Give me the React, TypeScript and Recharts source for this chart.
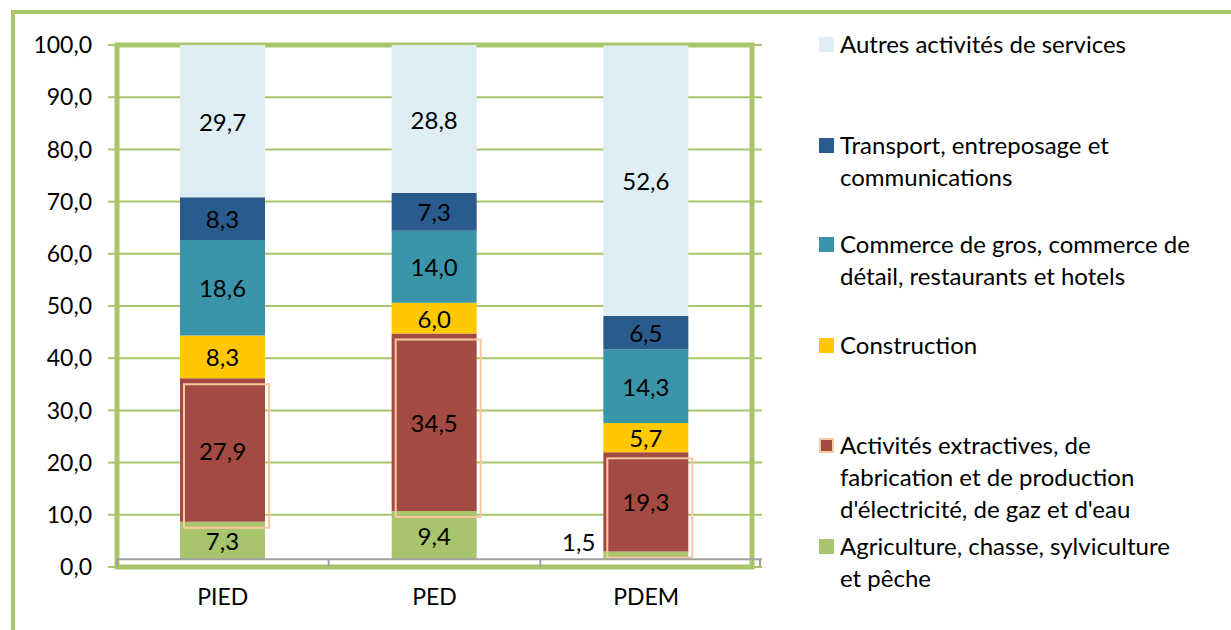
import React from 'react';
import {
  BarChart,
  Bar,
  Line,
  XAxis,
  YAxis,
  CartesianGrid,
  Legend,
  LabelList,
  ReferenceLine,
  ReferenceArea,
  Rectangle,
} from 'recharts';

const CATEGORIES = ['PIED', 'PED', 'PDEM'];
const AGRICULTURE = [7.3, 9.4, 1.5];
const ACTIVITES = [27.9, 34.5, 19.3];
const CONSTRUCTION = [8.3, 6.0, 5.7];
const COMMERCE = [18.6, 14.0, 14.3];
const TRANSPORT = [8.3, 7.3, 6.5];
const AUTRES = [29.7, 28.8, 52.6];
const Y_TICKS = [0, 10, 20, 30, 40, 50, 60, 70, 80, 90, 100];

const SERIES = [
  { key: 'agriculture', name: 'Agriculture, chasse, sylviculture\net pêche', values: AGRICULTURE, color: '#a8c46c' },
  { key: 'activites', name: "Activités extractives, de\nfabrication et de production\nd'électricité, de gaz et d'eau", values: ACTIVITES, color: '#a34a42' },
  { key: 'construction', name: 'Construction', values: CONSTRUCTION, color: '#ffc800' },
  { key: 'commerce', name: 'Commerce de gros, commerce de\ndétail, restaurants et hotels', values: COMMERCE, color: '#3b95aa' },
  { key: 'transport', name: 'Transport, entreposage et\ncommunications', values: TRANSPORT, color: '#295b8d' },
  { key: 'autres', name: 'Autres activités de services', values: AUTRES, color: '#dfeef5' },
];

const data = CATEGORIES.map((cat, i) => {
  const row: Record<string, any> = { cat };
  SERIES.forEach((s) => {
    row[s.key] = s.values[i];
  });
  return row;
});

const GREEN = '#a9c56b';
const PEACH = '#f9c8a0';
const FONT = 'Lato, "Open Sans", sans-serif';
const PLOT_TOP = 45;

const fmt = (v: number) => v.toFixed(1).replace('.', ',');

const SegmentLabel = (props: any) => {
  const { x, y, width, height, value, small } = props;
  if (value == null) return null;
  const top = Math.max(y, PLOT_TOP);
  const cy = top + (y + height - top) / 2;
  if (small && value < 3) {
    return (
      <text x={x - 8} y={cy - 14} textAnchor="end" dominantBaseline="central" fontSize={24} fontFamily={FONT} fill="#000">
        {fmt(value)}
      </text>
    );
  }
  return (
    <text x={x + width / 2} y={cy} textAnchor="middle" dominantBaseline="central" fontSize={24} fontFamily={FONT} fill="#000">
      {fmt(value)}
    </text>
  );
};

const OutlinedShape = (props: any) => {
  const { x, y, width, height, fill } = props;
  return (
    <g>
      <Rectangle x={x} y={y} width={width} height={height} fill={fill} />
      <rect x={x + 4} y={y + 6} width={width} height={height} fill="none" stroke={PEACH} strokeWidth={2} />
    </g>
  );
};

const CategoryTick = (props: any) => {
  const { x, y, payload } = props;
  const half = payload && payload.offset ? payload.offset : 106;
  const isLast = payload && payload.index === CATEGORIES.length - 1;
  return (
    <g>
      <line x1={x - half} y1={y - 8} x2={x - half} y2={y} stroke="#a0a0a0" strokeWidth={2} />
      {isLast && <line x1={x + half + 8} y1={y - 8} x2={x + half + 8} y2={y} stroke="#a0a0a0" strokeWidth={2} />}
      <text x={x} y={y + 38} textAnchor="middle" fontSize={23} fontFamily={FONT} fill="#000">
        {payload.value}
      </text>
    </g>
  );
};

const LEGEND_TOPS = [29, 130, 229, 330, 430, 531];

const LegendContent = () => {
  const items = [...SERIES].reverse();
  return (
    <div style={{ position: 'relative', width: 412, height: 600 }}>
      {items.map((s, i) => (
        <div key={s.key} style={{ position: 'absolute', left: 0, top: LEGEND_TOPS[i], display: 'flex' }}>
          <div
            style={{
              width: 15,
              height: 15,
              marginTop: 8,
              flex: '0 0 auto',
              background: s.color,
              boxSizing: 'border-box',
              border: s.key === 'activites' ? `2px solid ${PEACH}` : 'none',
            }}
          />
          <div
            style={{
              marginLeft: 6,
              fontFamily: FONT,
              fontSize: 24,
              lineHeight: '32px',
              whiteSpace: 'pre',
              color: '#000',
              marginTop: -1,
            }}
          >
            {s.name}
          </div>
        </div>
      ))}
    </div>
  );
};

export default function App() {
  return (
    <div style={{ position: 'absolute', left: 0, top: 0, width: 1231, height: 630, overflow: 'hidden', background: '#fff' }}>
      <div
        style={{
          position: 'absolute',
          left: 11,
          top: 10,
          width: 1260,
          height: 660,
          borderLeft: `4px solid ${GREEN}`,
          borderTop: `4px solid ${GREEN}`,
        }}
      />
      <BarChart
        width={1231}
        height={630}
        data={data}
        margin={{ top: 45, right: 469, bottom: 0, left: 0 }}
        barSize={85}
        style={{ position: 'absolute', left: 0, top: 0 }}
      >
        <CartesianGrid yAxisId="left" horizontal vertical={false} stroke={GREEN} strokeWidth={2} />
        <XAxis
          dataKey="cat"
          height={63}
          axisLine={false}
          tickLine={false}
          tickSize={0}
          tickMargin={0}
          padding={{ left: 0, right: 10 }}
          tick={<CategoryTick />}
          interval={0}
        />
        <YAxis
          yAxisId="left"
          width={117}
          domain={[0, 100]}
          allowDataOverflow
          ticks={Y_TICKS}
          tickFormatter={fmt}
          axisLine={false}
          tickLine={{ stroke: GREEN, strokeWidth: 2 }}
          tickSize={9}
          tickMargin={16}
          tick={{ fontSize: 23, fontFamily: FONT, fill: '#000' }}
        />
        <YAxis yAxisId="bars" orientation="right" width={0} hide domain={[-1.5, 100]} allowDataOverflow />
        <Line
          yAxisId="left"
          dataKey="autres"
          stroke="none"
          dot={false}
          activeDot={false}
          legendType="none"
          isAnimationActive={false}
        />
        {SERIES.map((s) => (
          <Bar
            key={s.key}
            yAxisId="bars"
            dataKey={s.key}
            name={s.name}
            stackId="a"
            fill={s.color}
            isAnimationActive={false}
            shape={s.key === 'activites' ? <OutlinedShape /> : undefined}
          >
            <LabelList dataKey={s.key} content={<SegmentLabel small={s.key === 'agriculture'} />} />
          </Bar>
        ))}
        <ReferenceLine yAxisId="bars" y={0} stroke="#a0a0a0" strokeWidth={2} />
        <ReferenceArea yAxisId="left" y1={0} y2={100} fill="none" stroke={GREEN} strokeWidth={5} ifOverflow="visible" />
        <Legend
          layout="horizontal"
          verticalAlign="middle"
          content={<LegendContent />}
          wrapperStyle={{ position: 'absolute', left: 819, top: 0, width: 412, height: 600 }}
        />
      </BarChart>
    </div>
  );
}
